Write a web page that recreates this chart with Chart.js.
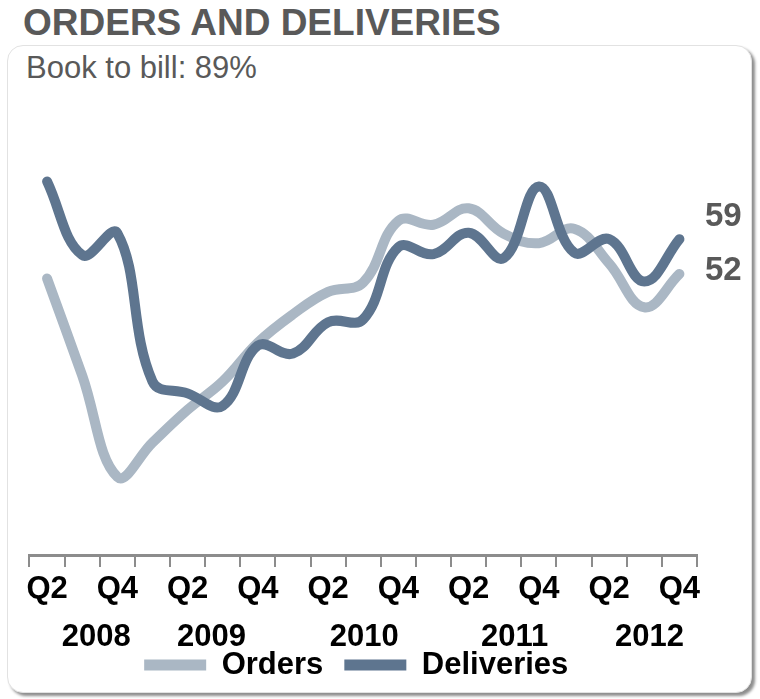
<!DOCTYPE html>
<html>
<head>
<meta charset="utf-8">
<script src="https://cdn.jsdelivr.net/npm/chart.js@4.4.1/dist/chart.umd.min.js"></script>
<style>
  html, body { margin: 0; padding: 0; background: #fff; }
  #wrap { position: relative; width: 760px; height: 699px; overflow: hidden;
          font-family: "Liberation Sans", Arial, sans-serif; }
  #panel { position: absolute; left: 7px; top: 45px; width: 743px; height: 646px;
           border: 1px solid #e2e2e2; border-radius: 16px; background: #fff;
           box-shadow: 3px 3px 3px rgba(0,0,0,0.45); }
  #title { position: absolute; left: 23px; top: 4px; font-weight: bold; font-size: 37px;
           line-height: 37px; color: #595959; white-space: nowrap; }
  #subtitle { position: absolute; left: 26px; top: 52px; font-size: 31px;
              line-height: 31px; color: #595959; white-space: nowrap; }
  canvas { position: absolute; left: 0; top: 0; }
</style>
</head>
<body>
<div id="wrap">
  <div id="panel"></div>
  <div id="title">ORDERS AND DELIVERIES</div>
  <div id="subtitle">Book to bill: 89%</div>
  <canvas id="chart" width="760" height="699"></canvas>
</div>
<script>
// Quarterly series, Q2 2008 .. Q4 2012
const quarters = ['Q2','Q3','Q4','Q1','Q2','Q3','Q4','Q1','Q2','Q3','Q4','Q1','Q2','Q3','Q4','Q1','Q2','Q3','Q4'];
const orders     = [51.1, 31.6, 11.2, 18.1, 24.7, 30.4, 38.2, 43.9, 48.4, 50.3, 62.7, 61.9, 65.2, 60.1, 58.2, 61.1, 54.1, 45.3, 52];
const deliveries = [70.6, 55.8, 60.2, 30.4, 28.0, 25.5, 37.6, 36.0, 42.3, 42.9, 57.4, 56.0, 60.3, 55.2, 69.6, 56.3, 59.0, 50.5, 59];
const years = ['2008', '2009', '2010', '2011', '2012'];

// Layout helpers (category positions of the year captions, label nudges)
const yearAnchors = [1.4, 4.68, 9.03, 13.31, 17.15];
const endLabelNudge = { Orders: 6.3, Deliveries: -12.7 };
const legendShift = -7;

const FONT = '"Liberation Sans", Arial, sans-serif';
const ORDERS_COLOR = '#aab7c4';
const DELIVERIES_COLOR = '#5e758f';

// Year captions under the quarter ticks
const yearPlugin = {
  id: 'yearCaptions',
  afterDraw(chart) {
    const { ctx, chartArea } = chart;
    const x = chart.scales.x;
    ctx.save();
    ctx.font = 'bold 31px ' + FONT;
    ctx.fillStyle = '#000';
    ctx.textAlign = 'center';
    ctx.textBaseline = 'alphabetic';
    years.forEach((y, i) => {
      ctx.fillText(y, x.getPixelForValue(yearAnchors[i]), chartArea.bottom + 91.3);
    });
    ctx.restore();
  }
};

// Latest value written beside each line's end
const endLabelPlugin = {
  id: 'endLabels',
  afterDatasetsDraw(chart) {
    const { ctx, chartArea } = chart;
    const yScale = chart.scales.y;
    ctx.save();
    ctx.font = 'bold 33px ' + FONT;
    ctx.fillStyle = '#595959';
    ctx.textAlign = 'left';
    ctx.textBaseline = 'alphabetic';
    chart.data.datasets.forEach(ds => {
      const v = ds.data[ds.data.length - 1];
      const y = yScale.getPixelForValue(v) + endLabelNudge[ds.label];
      ctx.fillText(String(v), chartArea.right + 8, y);
    });
    ctx.restore();
  }
};

// Slide the legend row a little to the left of the plot's centre
const legendNudgePlugin = {
  id: 'legendNudge',
  afterLayout(chart) {
    if (chart.legend) {
      chart.legend.left += legendShift;
      chart.legend.right += legendShift;
    }
  }
};

new Chart(document.getElementById('chart'), {
  type: 'line',
  data: {
    labels: quarters,
    datasets: [
      { label: 'Orders', data: orders, borderColor: ORDERS_COLOR, backgroundColor: ORDERS_COLOR,
        order: 1 },
      { label: 'Deliveries', data: deliveries, borderColor: DELIVERIES_COLOR, backgroundColor: DELIVERIES_COLOR,
        order: 0 }
    ]
  },
  options: {
    responsive: false,
    animation: false,
    events: [],
    layout: { padding: { top: 157.1, left: 29.5, right: 63, bottom: 8.5 } },
    elements: {
      line: { borderWidth: 10, tension: 0.4, borderCapStyle: 'round', borderJoinStyle: 'round', fill: false },
      point: { radius: 0 }
    },
    scales: {
      x: {
        offset: true,
        grid: { display: true, offset: true, drawOnChartArea: false, drawTicks: true,
                tickLength: 12, color: '#8c8c8c', lineWidth: 2 },
        border: { display: true, color: '#8c8c8c', width: 3 },
        ticks: {
          autoSkip: false, maxRotation: 0, minRotation: 0, padding: 4, color: '#000',
          font: { family: FONT, size: 31, weight: 'bold' },
          callback: (v, i) => (i % 2 === 0 ? quarters[i] : '')
        },
        afterFit(scale) { scale.height = 73.5; }
      },
      y: { display: false, min: -4.5, max: 75.5 }
    },
    plugins: {
      title: { display: false },
      tooltip: { enabled: false },
      legend: {
        position: 'bottom',
        labels: {
          boxWidth: 62, boxHeight: 11, padding: 21, color: '#000',
          useBorderRadius: true, borderRadius: 5.5,
          font: { family: FONT, size: 31, weight: 'bold' },
          generateLabels(chart) {
            return chart.data.datasets.map((ds, i) => ({
              text: ds.label, fillStyle: ds.borderColor, strokeStyle: ds.borderColor,
              lineWidth: 0, hidden: false, datasetIndex: i, fontColor: '#000'
            }));
          }
        }
      }
    }
  },
  plugins: [yearPlugin, endLabelPlugin, legendNudgePlugin]
});
</script>
</body>
</html>
